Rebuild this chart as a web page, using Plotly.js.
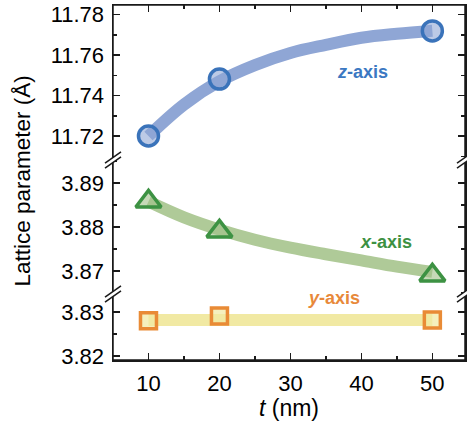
<!DOCTYPE html>
<html>
<head>
<meta charset="utf-8">
<script src="https://cdn.plot.ly/plotly-3.0.1.min.js"></script>
<style>
  html, body { margin: 0; padding: 0; background: #fff; }
  #chart { width: 467px; height: 421px; }
</style>
</head>
<body>
<div id="chart"></div>
<script>
// Film thickness (nm) and measured lattice parameters (Å) along each axis
const thickness = [10, 20, 50];
const zAxisParam = [11.7200, 11.7481, 11.7719];
const xAxisParam = [3.8858, 3.8790, 3.8690];
const yAxisParam = [3.8280, 3.8291, 3.8282];

// Guide-to-the-eye trend curves
const trendT = [10, 15, 20, 25, 30, 35, 40, 45, 50];
const zTrend = [11.7200, 11.7355, 11.7470, 11.7550, 11.7610, 11.7650, 11.7685, 11.7705, 11.7720];
const xTrend = [3.8858, 3.8822, 3.8794, 3.8771, 3.8753, 3.8738, 3.8724, 3.8710, 3.8698];
const yTrendT = [10, 50];
const yTrend = [3.8282, 3.8282];

// Axis ticks and labels
const xTicks = [10, 20, 30, 40, 50];
const zTicks = [11.72, 11.74, 11.76, 11.78];
const xParamTicks = [3.87, 3.88, 3.89];
const yParamTicks = [3.82, 3.83];

const FONT = 'Liberation Sans, Arial, Helvetica, sans-serif';
const INK = '#1a1a1a';

const blue = { band: '#8fa6d5', fill: 'rgba(143,166,213,0.6)', edge: '#3a73ba', text: '#3b78c2' };
const green = { band: '#afca98', fill: 'rgba(160,192,136,0.6)', edge: '#3d9243', text: '#3d9142' };
const orange = { band: '#f1e9a3', fill: 'rgba(241,233,163,0.7)', edge: '#e98b36', text: '#e8893a' };

function trend(x, y, color, xa, ya) {
  return { x: x, y: y, xaxis: xa, yaxis: ya, type: 'scatter', mode: 'lines',
    line: { color: color, width: 12, shape: 'spline', smoothing: 1 }, hoverinfo: 'skip' };
}
function points(x, y, sym, size, s, xa, ya) {
  return { x: x, y: y, xaxis: xa, yaxis: ya, type: 'scatter', mode: 'markers', cliponaxis: false,
    marker: { symbol: sym, size: size, color: s.fill, line: { color: s.edge, width: 3.5 } } };
}

const traces = [
  trend(trendT, zTrend, blue.band, 'x2', 'y'),
  points(thickness, zAxisParam, 'circle', 20, blue, 'x2', 'y'),
  trend(trendT, xTrend, green.band, 'x', 'y2'),
  points(thickness, xAxisParam, 'triangle-up', 22, green, 'x', 'y2'),
  trend(yTrendT, yTrend, orange.band, 'x', 'y3'),
  points(thickness, yAxisParam, 'square', 16, orange, 'x', 'y3')
];

// Panel heights: top 155px, middle 134px, bottom 66px of a 355px plot
const b1 = 66 / 355, b2 = 200 / 355;

const tickStyle = {
  ticks: 'inside', ticklen: 7, tickwidth: 1.5, tickcolor: INK,
  showline: true, linecolor: INK, linewidth: 1.5, mirror: 'ticks',
  showgrid: false, zeroline: false,
  tickfont: { family: FONT, size: 22, color: '#000' }
};

function yAx(range, ticks, minorStep, domain) {
  return Object.assign({}, tickStyle, {
    domain: domain, range: range, anchor: 'x',
    tickvals: ticks, tickformat: '.2f', ticklabelstandoff: 3,
    minor: { dtick: minorStep, tick0: ticks[0], ticks: 'inside', ticklen: 4, tickwidth: 1.5, tickcolor: INK }
  });
}

// Broken-axis marks: white gap plus two slanted strokes
function breakMark(xa, ya) {
  const base = { xref: 'paper', yref: 'paper', xsizemode: 'pixel', ysizemode: 'pixel',
    xanchor: xa, yanchor: ya, layer: 'above' };
  return [
    Object.assign({}, base, { type: 'path', path: 'M-7,-7.5 L7,2.5 L7,7.5 L-7,-2.5 Z',
      fillcolor: '#fff', line: { width: 0 } }),
    Object.assign({}, base, { type: 'path', path: 'M-8,-8.2 L8,3.2', line: { color: INK, width: 1.5 } }),
    Object.assign({}, base, { type: 'path', path: 'M-8,-3.2 L8,8.2', line: { color: INK, width: 1.5 } })
  ];
}

const layout = {
  width: 467, height: 421,
  margin: { l: 113, r: 2, t: 5, b: 61 },
  paper_bgcolor: '#fff', plot_bgcolor: '#fff',
  showlegend: false,
  font: { family: FONT, color: '#000' },
  xaxis: Object.assign({}, tickStyle, {
    range: [5, 54.6], anchor: 'y3', mirror: false,
    tickvals: xTicks, ticklabelstandoff: 3,
    minor: { dtick: 5, tick0: 5, ticks: 'inside', ticklen: 4, tickwidth: 1.5, tickcolor: INK },
    title: { text: '<i>t</i> (nm)', font: { family: FONT, size: 23, color: '#000' }, standoff: 3 }
  }),
  xaxis2: Object.assign({}, tickStyle, {
    matches: 'x', anchor: 'y', side: 'top', mirror: false, showticklabels: false,
    tickvals: xTicks,
    minor: { dtick: 5, tick0: 5, ticks: 'inside', ticklen: 4, tickwidth: 1.5, tickcolor: INK }
  }),
  yaxis: yAx([11.70815, 11.7847], zTicks, 0.01, [b2, 1]),
  yaxis2: yAx([3.86477, 3.89523], xParamTicks, 0.005, [b1, b2]),
  yaxis3: yAx([3.8191, 3.8341], yParamTicks, 0.005, [0, b1]),
  shapes: [
    { type: 'rect', xref: 'paper', yref: 'paper', x0: 0, x1: 1, y0: 0, y1: 1,
      line: { color: INK, width: 1.5 }, layer: 'above' }
  ].concat(breakMark(0, b1), breakMark(0, b2), breakMark(1, b1), breakMark(1, b2)),
  annotations: [
    { xref: 'paper', yref: 'paper', x: 0, y: 0.5, xshift: -91, yshift: 1,
      text: 'Lattice parameter (Å)', textangle: -90, showarrow: false,
      font: { family: FONT, size: 22.5, color: '#000' }, xanchor: 'center', yanchor: 'middle' },
    { xref: 'x2', yref: 'y', x: 40.1, y: 11.7517, text: '<b><i>z</i>-axis</b>', showarrow: false,
      font: { family: FONT, size: 18, color: blue.text } },
    { xref: 'x', yref: 'y2', x: 43.4, y: 3.8766, text: '<b><i>x</i>-axis</b>', showarrow: false,
      font: { family: FONT, size: 18, color: green.text } },
    { xref: 'x', yref: 'y3', x: 36.1, y: 3.8332, text: '<b><i>y</i>-axis</b>', showarrow: false,
      font: { family: FONT, size: 18, color: orange.text } }
  ]
};

Plotly.newPlot('chart', traces, layout, { displayModeBar: false, staticPlot: true });
</script>
</body>
</html>
